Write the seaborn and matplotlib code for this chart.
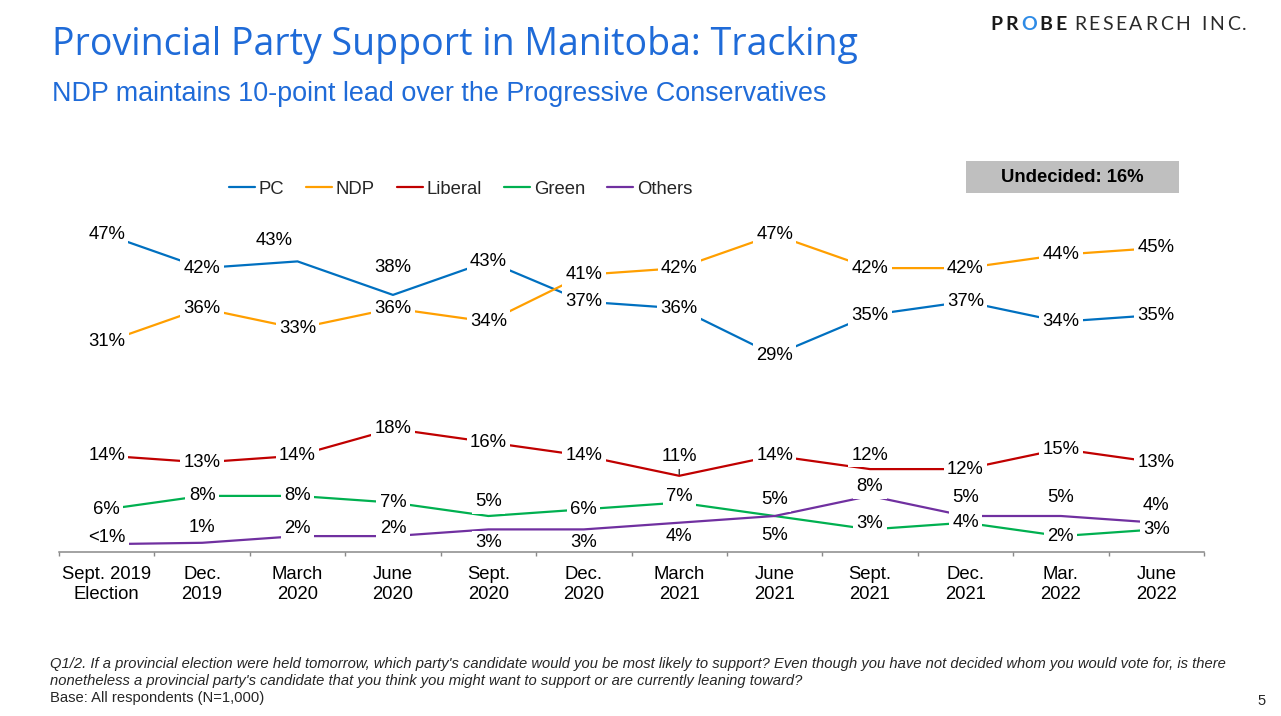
"""
Provincial party support in Manitoba - tracking chart
"""

import pandas as pd
import matplotlib.pyplot as plt
import seaborn as sns
from matplotlib.patches import Rectangle

# data
periods = ['Sept. 2019\nElection', 'Dec.\n2019', 'March\n2020', 'June\n2020', 'Sept.\n2020', 'Dec.\n2020',
           'March\n2021', 'June\n2021', 'Sept.\n2021', 'Dec.\n2021', 'Mar.\n2022', 'June\n2022']
parties = ['PC', 'NDP', 'Liberal', 'Green', 'Others']
pc = [47, 42, 43, 38, 43, 37, 36, 29, 35, 37, 34, 35]
ndp = [31, 36, 33, 36, 34, 41, 42, 47, 42, 42, 44, 45]
liberal = [14, 13, 14, 18, 16, 14, 11, 14, 12, 12, 15, 13]
green = [6, 8, 8, 7, 5, 6, 7, 5, 3, 4, 2, 3]
others = [0.8, 1, 2, 2, 3, 3, 4, 5, 8, 5, 5, 4]   # first value shown as "<1%"
undecided = 16

colors = {'PC': '#0070C0', 'NDP': '#FF9F00', 'Liberal': '#C00000', 'Green': '#00B050', 'Others': '#7030A0'}

# label offsets in pixels (dx, dy down), 0 = centred on point
offsets = {
    'PC':      [(0, 0), (0, 0), (-23, -21), (0, -27), (0, 0), (0, 0), (0, 0), (0, 0), (0, 0), (0, 0), (0, 0), (0, 0)],
    'NDP':     [(0, 0)] * 12,
    'Liberal': [(0, 0)] * 6 + [(0, -19), (0, 0), (0, -14), (0, 0), (0, 0), (0, 0)],
    'Green':   [(0, 0)] * 4 + [(0, -14), (0, 0), (0, -6), (0, -16), (0, -6), (0, 0), (0, 0), (0, 0)],
    'Others':  [(0, -7), (0, -15), (0, -8), (0, -8), (0, 13), (0, 13), (0, 14), (0, 19),
                (0, -9), (0, -18), (0, -18), (0, -17)],
}

series = {'PC': pc, 'NDP': ndp, 'Liberal': liberal, 'Green': green, 'Others': others}
rows = []
for p in parties:
    for i, v in enumerate(series[p]):
        rows.append({'pos': i, 'party': p, 'value': v})
df = pd.DataFrame(rows)

sns.set_style('white')
plt.rcParams['font.family'] = ['Liberation Sans', 'DejaVu Sans']

W, H = 1281, 716
fig = plt.figure(figsize=(W / 100, H / 100), dpi=100)
renderer = fig.canvas.get_renderer()

# axes placed in pixel coordinates
left, right, top, bottom = 59, 1204, 200, 552
ax = fig.add_axes([left / W, 1 - bottom / H, (right - left) / W, (bottom - top) / H])
px_per_pt = 6.7
y0 = -(bottom - 549.5) / px_per_pt
y1 = (549.5 - top) / px_per_pt

sns.lineplot(data=df, x='pos', y='value', hue='party', hue_order=parties, palette=colors,
             linewidth=1.6, ax=ax)
handles, labels = ax.get_legend_handles_labels()
ax.get_legend().remove()

ax.set_xlim(-0.5, len(periods) - 0.5)
ax.set_ylim(y0, y1)
ax.set_xlabel('')
ax.set_ylabel('')
ax.set_yticks([])
ax.set_xticks(range(len(periods)))
ax.set_xticklabels(periods, fontsize=13.3, linespacing=1.22)
ax.set_xticks([i + 0.5 for i in range(-1, len(periods))], minor=True)
ax.tick_params(axis='x', which='major', length=0, pad=10, colors='black')
ax.tick_params(axis='x', which='minor', length=3, width=1, color='#898989', direction='out', bottom=True)
for s in ['top', 'left', 'right']:
    ax.spines[s].set_visible(False)
ax.spines['bottom'].set_color('#898989')
ax.spines['bottom'].set_linewidth(1.1)
# keep the axis line above the white label boxes
ax.spines['bottom'].set_zorder(7)
ax.xaxis.set_zorder(7)

# data labels
for p in parties:
    for i, v in enumerate(series[p]):
        txt = '<1%' if v < 1 else f'{v:.0f}%'
        dx, dy = offsets[p][i]
        arrow = None
        if p == 'Liberal' and i == 6:
            arrow = dict(arrowstyle='-', color='black', lw=0.8, shrinkA=0, shrinkB=1)
        ax.annotate(txt, xy=(i, v), xytext=(dx, -dy), textcoords='offset pixels',
                    ha='center', va='center', fontsize=13.3, color='black', zorder=5,
                    bbox=dict(boxstyle='square,pad=0.18', fc='white', ec='none'),
                    arrowprops=arrow)

# legend
fig.legend(handles, labels, loc='center left', bbox_to_anchor=(229 / W, 1 - 189 / H), ncol=5,
           frameon=False, fontsize=13.3, handlelength=1.4, handletextpad=0.2, columnspacing=1.2,
           borderpad=0, borderaxespad=0)

# undecided box
fig.patches.append(Rectangle((966 / W, 1 - 193 / H), 213 / W, 32 / H, transform=fig.transFigure,
                             facecolor='#BFBFBF', edgecolor='none'))
fig.text(1072 / W, 1 - 178 / H, f'Undecided: {undecided}%', ha='center', va='center',
         fontsize=13.3, fontweight='bold', color='black')

# titles
fig.text(52 / W, 1 - 45 / H, 'Provincial Party Support in Manitoba: Tracking', ha='left', va='center',
         fontsize=27, color='#1F6BD8', family=['Open Sans', 'DejaVu Sans'])
fig.text(52 / W, 1 - 94 / H, 'NDP maintains 10-point lead over the Progressive Conservatives', ha='left',
         va='center', fontsize=19.4, color='#1F6BD8')


# logo with letter spacing
def spaced(x, y, s, track, **kw):
    for ch in s:
        if ch == ' ':
            x += 6 + track
            continue
        t = fig.text(x / W, 1 - y / H, ch, ha='left', va='center', **kw)
        x += t.get_window_extent(renderer).width + track
    return x


logo_font = ['Lato', 'DejaVu Sans']
x = spaced(990, 25, 'PR', 3.0, fontsize=14, fontweight='bold', color='#1A1A1A', family=logo_font)
x = spaced(x, 25, 'O', 3.0, fontsize=14, fontweight='bold', color='#2E8BE6', family=logo_font)
x = spaced(x, 25, 'BE', 3.0, fontsize=14, fontweight='bold', color='#1A1A1A', family=logo_font)
spaced(x + 4, 25, 'RESEARCH INC.', 2.6, fontsize=14, fontweight='normal', color='#2A2A2A', family=logo_font)

# footnote, sized so the first line spans the same width as the reference
note_font = ['Liberation Sans Narrow', 'Liberation Sans']
note = ("Q1/2. If a provincial election were held tomorrow, which party's candidate would you be most likely to "
        "support? Even though you have not decided whom you would vote for, is there\nnonetheless a provincial "
        "party's candidate that you think you might want to support or are currently leaning toward?")
probe = fig.text(0, 0, note.split('\n')[0], fontsize=10, style='italic', family=note_font)
note_size = 10 * 1178 / probe.get_window_extent(renderer).width
probe.remove()
fig.text(50 / W, 1 - 657 / H, note, ha='left', va='top', fontsize=note_size, style='italic',
         linespacing=1.25, family=note_font)
fig.text(50 / W, 1 - 698 / H, 'Base: All respondents (N=1,000)', ha='left', va='center', fontsize=note_size,
         family=note_font)
fig.text(1262 / W, 1 - 701 / H, '5', ha='center', va='center', fontsize=note_size, family=note_font)

plt.savefig('out.png', dpi=100)
